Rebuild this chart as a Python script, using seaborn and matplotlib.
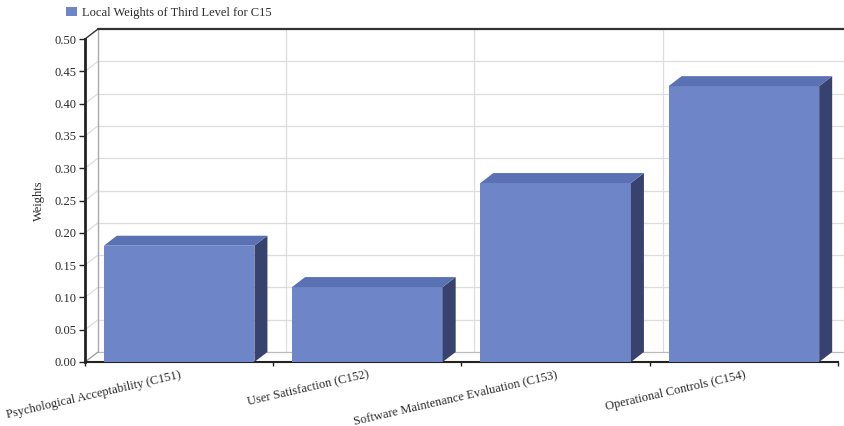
import matplotlib
matplotlib.use("Agg")
import matplotlib.pyplot as plt
import seaborn as sns
import pandas as pd
import numpy as np
from matplotlib.patches import Polygon
from matplotlib.lines import Line2D
from matplotlib.transforms import IdentityTransform

# ---- data ----
categories = [
    "Psychological Acceptability (C151)",
    "User Satisfaction (C152)",
    "Software Maintenance Evaluation (C153)",
    "Operational Controls (C154)",
]
weights = [0.180, 0.116, 0.277, 0.427]
yticks = [0.00, 0.05, 0.10, 0.15, 0.20, 0.25, 0.30, 0.35, 0.40, 0.45, 0.50]
series_label = "Local Weights of Third Level for C15"
y_label = "Weights"

# ---- style ----
FRONT = "#6e86c8"
TOP = "#5a71b3"
SIDE = "#38426e"
GRID = "#dddddd"
TXT = "#2a2a2a"
DX, DY = 13, 10  # depth offset in pixels
FS = 9

sns.set_theme(style="white")
plt.rcParams["font.family"] = ["Liberation Serif", "DejaVu Serif"]

W, H = 845, 426
fig = plt.figure(figsize=(W / 100, H / 100), dpi=100)
ax = fig.add_axes([85 / W, 1 - 362 / H, (838 - 85) / W, (362 - 39) / H])

df = pd.DataFrame({"category": categories, "weight": weights})
sns.barplot(data=df, x="category", y="weight", color=FRONT, saturation=1,
            width=0.8, linewidth=0, edgecolor="none", ax=ax, zorder=3)
ax.set_xlim(-0.5, len(categories) - 0.5)
ax.set_ylim(yticks[0], yticks[-1])
ax.patch.set_visible(False)

bars = list(ax.patches)
T = ax.transData
ident = IdentityTransform()

# back wall: horizontal gridlines + diagonal connectors
x_left, _ = T.transform((-0.5, 0))
x_right, _ = T.transform((len(categories) - 0.5, 0))
_, y_bot = T.transform((0, yticks[0]))
_, y_top = T.transform((0, yticks[-1]))
for yt in yticks[1:-1]:
    _, yp = T.transform((0, yt))
    ax.add_line(Line2D([x_left + DX, x_right + DX + 20], [yp + DY, yp + DY],
                       color=GRID, lw=0.9, transform=ident, clip_on=False, zorder=1))
    ax.add_line(Line2D([x_left, x_left + DX], [yp, yp + DY],
                       color=GRID, lw=0.9, transform=ident, clip_on=False, zorder=1))
# vertical gridlines on back wall at category boundaries
for xb in np.arange(0.5, len(categories) - 0.5, 1.0):
    xp, _ = T.transform((xb, 0))
    ax.add_line(Line2D([xp + DX, xp + DX], [y_bot + DY, y_top + DY],
                       color=GRID, lw=0.9, transform=ident, clip_on=False, zorder=1))
# floor back edge
ax.add_line(Line2D([x_left + DX, x_right + DX + 20], [y_bot + DY, y_bot + DY],
                   color="#bbbbbb", lw=0.9, transform=ident, clip_on=False, zorder=1))
ax.add_line(Line2D([x_left, x_left + DX], [y_bot, y_bot + DY],
                   color="#999999", lw=0.9, transform=ident, clip_on=False, zorder=1))
# wall left edge and top edge
ax.add_line(Line2D([x_left + DX, x_left + DX], [y_bot + DY, y_top + DY],
                   color="#aaaaaa", lw=1.0, transform=ident, clip_on=False, zorder=1))
ax.add_line(Line2D([x_left + DX, x_right + DX + 20], [y_top + DY, y_top + DY],
                   color="#333333", lw=1.6, transform=ident, clip_on=False, zorder=1))
ax.add_line(Line2D([x_left, x_left + DX], [y_top, y_top + DY],
                   color="#333333", lw=1.0, transform=ident, clip_on=False, zorder=1))

# 3D bar faces
for p in bars:
    x0 = p.get_x()
    x1 = x0 + p.get_width()
    y0 = p.get_y()
    y1 = y0 + p.get_height()
    (px0, py0) = T.transform((x0, y0))
    (px1, py1) = T.transform((x1, y1))
    side = Polygon([(px1, py0), (px1, py1), (px1 + DX, py1 + DY), (px1 + DX, py0 + DY)],
                   closed=True, facecolor=SIDE, edgecolor="none", transform=ident,
                   clip_on=False, zorder=3)
    top = Polygon([(px0, py1), (px1, py1), (px1 + DX, py1 + DY), (px0 + DX, py1 + DY)],
                  closed=True, facecolor=TOP, edgecolor="none", transform=ident,
                  clip_on=False, zorder=3)
    ax.add_patch(side)
    ax.add_patch(top)

# spines
sns.despine(ax=ax, top=True, right=True)
ax.spines["left"].set_color("#222222")
ax.spines["left"].set_linewidth(2.0)
ax.spines["bottom"].set_color("#222222")
ax.spines["bottom"].set_linewidth(1.5)

# ticks
ax.set_yticks(yticks)
ax.set_yticklabels([f"{v:.2f}" for v in yticks])
ax.tick_params(axis="y", which="major", left=True, length=4, width=1, color="#222222",
               labelsize=FS, labelcolor=TXT, pad=2)
ax.set_xticks(range(len(categories)))
ax.set_xticklabels(categories, rotation=13, ha="right", rotation_mode="anchor")
ax.tick_params(axis="x", which="major", bottom=False, length=0, labelsize=FS,
               labelcolor=TXT, pad=5)
ax.set_xticks(np.arange(-0.5, len(categories), 1.0), minor=True)
ax.tick_params(axis="x", which="minor", bottom=True, length=3, width=1, color="#222222")
ax.set_xlabel("")
ax.set_ylabel(y_label, fontsize=FS, color=TXT, labelpad=7)

# legend
ax.legend(handles=[bars[0]], labels=[series_label], loc="upper left",
          bbox_to_anchor=(66 / W, 1 - 7 / H), bbox_transform=fig.transFigure,
          frameon=False, fontsize=FS, handlelength=0.9, handleheight=0.7,
          handletextpad=0.4, borderpad=0, borderaxespad=0, labelcolor=TXT)

fig.savefig("out.png", dpi=100)
